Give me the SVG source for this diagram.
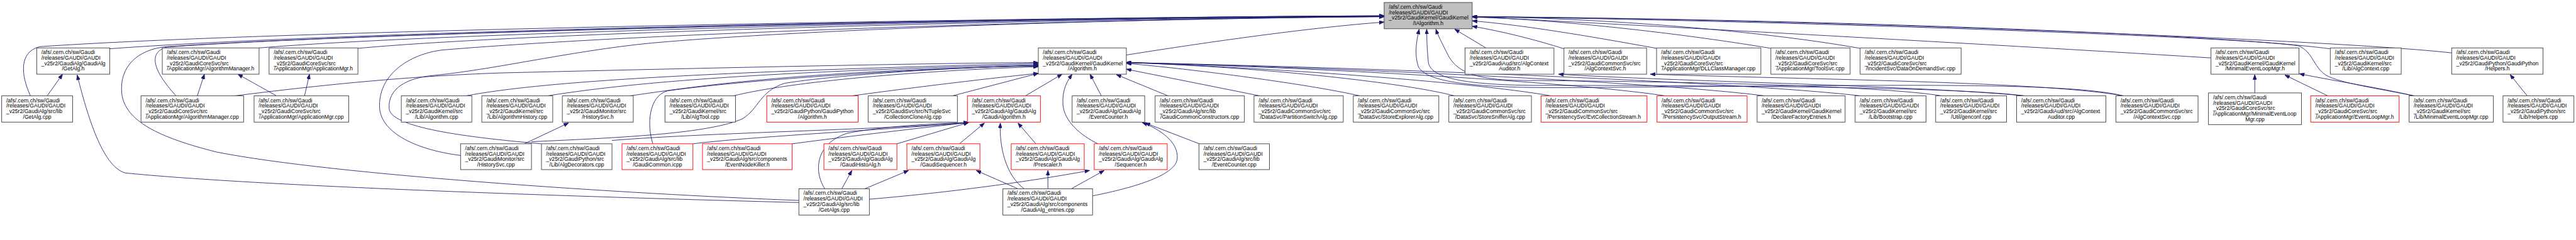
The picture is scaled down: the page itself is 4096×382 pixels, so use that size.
<svg xmlns="http://www.w3.org/2000/svg" width="4096" height="382" viewBox="0 0 4096 382">
<style>
.n rect{fill:#fff;stroke:#404040;stroke-width:1.4}
.r rect{fill:#fff;stroke:#ff0000;stroke-width:1.4}
.root rect{fill:#bfbfbf;stroke:#404040;stroke-width:1.4}
text{font-family:"Liberation Sans",Arial,Helvetica,sans-serif;font-size:13px;fill:#000}
.m{text-anchor:middle}
#edges path{fill:none;stroke:#191970;stroke-width:1.3;marker-end:url(#a)}
</style>
<defs>
<marker id="a" markerWidth="12" markerHeight="9" refX="12" refY="4.5" orient="auto" markerUnits="userSpaceOnUse">
<path d="M0,0 L12,4.5 L0,9 z" fill="#191970" stroke="#191970" stroke-width="1"/>
</marker>
</defs>
<rect width="4096" height="382" fill="#fff"/>
<g transform="scale(0.66332)">
<g id="edges">
<path d="M263,117 C900,70 2600,40 3318,38"/>
<path d="M73,230 C50,180 45,125 95,112 C700,70 2600,40 3318,38"/>
<path d="M422,230 C390,195 340,130 400,113 C900,75 2600,41 3318,39"/>
<path d="M621,115 C1100,75 2600,42 3318,39"/>
<path d="M858,116 C1300,75 2650,43 3318,40"/>
<path d="M1915,481 C1500,465 800,420 520,365 C380,330 300,290 292,225 C285,160 330,118 400,112 C1000,72 2600,40 3318,38"/>
<path d="M1915,486 C1300,470 600,445 300,415 C250,400 215,300 185,180"/>
<path d="M1104,373 C1000,360 915,320 910,260 C905,180 980,130 1060,120 C1600,75 2700,45 3318,40"/>
<path d="M1297,345 C1150,332 940,310 933,262 C928,210 980,186 1040,181 C1200,165 1400,115 1600,100 C1900,75 2600,45 3318,40"/>
<path d="M2700,132 C2900,100 3150,65 3318,53"/>
<path d="M473,230 L490,178"/>
<path d="M663,230 L570,178"/>
<path d="M730,230 L742,178"/>
<path d="M113,230 L150,178"/>
<path d="M562,230 C800,200 1000,182 1200,175 C1700,163 2200,152 2489,150"/>
<path d="M1117,230 C1300,195 1700,172 2489,152"/>
<path d="M1312,230 C1500,200 1800,172 2489,155"/>
<path d="M1510,230 C1650,210 1900,170 2489,158"/>
<path d="M1758,230 C1900,195 2200,170 2489,160"/>
<path d="M2042,230 C2150,215 2350,190 2489,176"/>
<path d="M2283,230 L2489,176"/>
<path d="M1274,340 C1500,330 1700,320 1780,285 C1820,260 1820,220 1880,200 C2000,180 2300,160 2489,158"/>
<path d="M1565,345 C1550,300 1555,230 1600,218 C1800,190 2200,165 2489,157"/>
<path d="M2458,230 L2546,178"/>
<path d="M2632,345 C2590,325 2550,290 2548,250 C2546,215 2558,195 2570,178"/>
<path d="M2640,230 L2613,178"/>
<path d="M2800,230 L2676,179"/>
<path d="M3020,230 L2700,166"/>
<path d="M3260,230 C3150,205 2900,170 2700,152"/>
<path d="M3487,230 C3350,195 3000,160 2700,150"/>
<path d="M3718,230 C3550,200 3100,165 2700,150"/>
<path d="M3992,230 C3800,200 3200,163 2700,150"/>
<path d="M4230,230 C4000,200 3300,165 2700,150"/>
<path d="M4460,230 C4200,200 3400,165 2700,150"/>
<path d="M3562,115 L3487,70"/>
<path d="M5090,230 C4950,195 4500,205 3800,210 C3550,213 3420,200 3400,160 C3390,130 3395,100 3402,70"/>
<path d="M4853,230 C4700,210 4200,205 3700,205 C3500,205 3430,185 3424,150 C3421,120 3420,95 3420,70"/>
<path d="M4655,230 C4500,205 4000,195 3650,193 C3530,192 3490,170 3470,130 C3455,100 3447,85 3442,70"/>
<path d="M3749,117 C3680,95 3600,75 3529,63"/>
<path d="M3971,116 C3800,85 3650,60 3529,50"/>
<path d="M4245,116 C4000,75 3700,45 3529,41"/>
<path d="M4459,116 C4200,70 3800,42 3529,40"/>
<path d="M5300,139 C5000,120 4300,80 3529,40"/>
<path d="M5585,117 C5300,80 4300,45 3529,40"/>
<path d="M5877,127 C5600,95 4300,45 3529,40"/>
<path d="M5787,230 C5700,212 5610,200 5575,180 C5545,160 5545,125 5510,110 C5400,90 4300,50 3529,40"/>
<path d="M5787,230 C5700,210 5600,195 5512,177"/>
<path d="M5580,230 L5477,180"/>
<path d="M5405,223 L5405,179"/>
<path d="M6058,230 L6017,179"/>
<path d="M4853,230 C4600,205 4000,195 3736,178"/>
<path d="M5090,230 C4900,195 4300,190 3956,178"/>
<path d="M2150,345 L2322,294"/>
<path d="M1899,345 C2050,325 2200,308 2322,294"/>
<path d="M1661,345 C1800,328 2100,313 2322,294"/>
<path d="M1467,337 C1700,318 2100,312 2322,294"/>
<path d="M1977,453 C1950,410 1955,345 2030,320 C2120,302 2250,296 2322,294"/>
<path d="M2300,345 L2360,295"/>
<path d="M2455,453 C2410,420 2395,350 2398,295"/>
<path d="M2483,345 L2440,295"/>
<path d="M2018,453 L2042,409"/>
<path d="M2073,453 L2178,409"/>
<path d="M2084,478 C2300,460 2500,430 2612,409"/>
<path d="M2440,453 L2340,409"/>
<path d="M2512,453 L2512,409"/>
<path d="M2568,453 L2647,409"/>
<path d="M2619,470 C2720,450 2820,420 2822,380 C2825,340 2780,310 2738,294"/>
<path d="M2875,345 L2745,295"/>
<path d="M1257,345 L1363,295"/>
</g>

<g id="root" class="root"><rect x="3318" y="6" width="211" height="63"/><text><tspan x="3329" y="21">/afs/.cern.ch/sw/Gaudi</tspan><tspan x="3329" y="34.2">/releases/GAUDI/GAUDI</tspan><tspan x="3329" y="47.4">_v25r2/GaudiKernel/GaudiKernel</tspan><tspan x="3423.5" y="60.6" class="m">/IAlgorithm.h</tspan></text></g>

<g id="getalg_h" class="n"><rect x="88" y="115" width="175" height="63"/><text><tspan x="99" y="130">/afs/.cern.ch/sw/Gaudi</tspan><tspan x="99" y="143.2">/releases/GAUDI/GAUDI</tspan><tspan x="99" y="156.4">_v25r2/GaudiAlg/GaudiAlg</tspan><tspan x="175.5" y="169.6" class="m">/GetAlg.h</tspan></text></g>
<g id="algmgr_h" class="n"><rect x="389" y="115" width="232" height="63"/><text><tspan x="400" y="130">/afs/.cern.ch/sw/Gaudi</tspan><tspan x="400" y="143.2">/releases/GAUDI/GAUDI</tspan><tspan x="400" y="156.4">_v25r2/GaudiCoreSvc/src</tspan><tspan x="505" y="169.6" class="m">/ApplicationMgr/AlgorithmManager.h</tspan></text></g>
<g id="appmgr_h" class="n"><rect x="645" y="115" width="213" height="63"/><text><tspan x="656" y="130">/afs/.cern.ch/sw/Gaudi</tspan><tspan x="656" y="143.2">/releases/GAUDI/GAUDI</tspan><tspan x="656" y="156.4">_v25r2/GaudiCoreSvc/src</tspan><tspan x="751.5" y="169.6" class="m">/ApplicationMgr/ApplicationMgr.h</tspan></text></g>
<g id="alg_h" class="n"><rect x="2489" y="115" width="211" height="63"/><text><tspan x="2500" y="130">/afs/.cern.ch/sw/Gaudi</tspan><tspan x="2500" y="143.2">/releases/GAUDI/GAUDI</tspan><tspan x="2500" y="156.4">_v25r2/GaudiKernel/GaudiKernel</tspan><tspan x="2594.5" y="169.6" class="m">/Algorithm.h</tspan></text></g>
<g id="acaud_h" class="n"><rect x="3512" y="115" width="213" height="63"/><text><tspan x="3523" y="130">/afs/.cern.ch/sw/Gaudi</tspan><tspan x="3523" y="143.2">/releases/GAUDI/GAUDI</tspan><tspan x="3523" y="156.4">_v25r2/GaudiAud/src/AlgContext</tspan><tspan x="3618.5" y="169.6" class="m">Auditor.h</tspan></text></g>
<g id="acsvc_h" class="n"><rect x="3749" y="115" width="198" height="63"/><text><tspan x="3760" y="130">/afs/.cern.ch/sw/Gaudi</tspan><tspan x="3760" y="143.2">/releases/GAUDI/GAUDI</tspan><tspan x="3760" y="156.4">_v25r2/GaudiCommonSvc/src</tspan><tspan x="3848" y="169.6" class="m">/AlgContextSvc.h</tspan></text></g>
<g id="dll" class="n"><rect x="3971" y="115" width="250" height="63"/><text><tspan x="3982" y="130">/afs/.cern.ch/sw/Gaudi</tspan><tspan x="3982" y="143.2">/releases/GAUDI/GAUDI</tspan><tspan x="3982" y="156.4">_v25r2/GaudiCoreSvc/src</tspan><tspan x="4096" y="169.6" class="m">/ApplicationMgr/DLLClassManager.cpp</tspan></text></g>
<g id="toolsvc" class="n"><rect x="4245" y="115" width="190" height="63"/><text><tspan x="4256" y="130">/afs/.cern.ch/sw/Gaudi</tspan><tspan x="4256" y="143.2">/releases/GAUDI/GAUDI</tspan><tspan x="4256" y="156.4">_v25r2/GaudiCoreSvc/src</tspan><tspan x="4340" y="169.6" class="m">/ApplicationMgr/ToolSvc.cpp</tspan></text></g>
<g id="dod" class="n"><rect x="4459" y="115" width="242" height="63"/><text><tspan x="4470" y="130">/afs/.cern.ch/sw/Gaudi</tspan><tspan x="4470" y="143.2">/releases/GAUDI/GAUDI</tspan><tspan x="4470" y="156.4">_v25r2/GaudiCoreSvc/src</tspan><tspan x="4580" y="169.6" class="m">/IncidentSvc/DataOnDemandSvc.cpp</tspan></text></g>
<g id="mel_h" class="n"><rect x="5300" y="115" width="211" height="63"/><text><tspan x="5311" y="130">/afs/.cern.ch/sw/Gaudi</tspan><tspan x="5311" y="143.2">/releases/GAUDI/GAUDI</tspan><tspan x="5311" y="156.4">_v25r2/GaudiKernel/GaudiKernel</tspan><tspan x="5405.5" y="169.6" class="m">/MinimalEventLoopMgr.h</tspan></text></g>
<g id="algctx" class="n"><rect x="5586" y="115" width="170" height="63"/><text><tspan x="5597" y="130">/afs/.cern.ch/sw/Gaudi</tspan><tspan x="5597" y="143.2">/releases/GAUDI/GAUDI</tspan><tspan x="5597" y="156.4">_v25r2/GaudiKernel/src</tspan><tspan x="5671" y="169.6" class="m">/Lib/AlgContext.cpp</tspan></text></g>
<g id="helpers_h" class="n"><rect x="5877" y="115" width="219" height="63"/><text><tspan x="5888" y="130">/afs/.cern.ch/sw/Gaudi</tspan><tspan x="5888" y="143.2">/releases/GAUDI/GAUDI</tspan><tspan x="5888" y="156.4">_v25r2/GaudiPython/GaudiPython</tspan><tspan x="5986.5" y="169.6" class="m">/Helpers.h</tspan></text></g>

<g id="getalg_cpp" class="n"><rect x="4" y="230" width="170" height="63"/><text><tspan x="15" y="245">/afs/.cern.ch/sw/Gaudi</tspan><tspan x="15" y="258.2">/releases/GAUDI/GAUDI</tspan><tspan x="15" y="271.4">_v25r2/GaudiAlg/src/lib</tspan><tspan x="89" y="284.6" class="m">/GetAlg.cpp</tspan></text></g>
<g id="algmgr_cpp" class="n"><rect x="338" y="230" width="246" height="63"/><text><tspan x="349" y="245">/afs/.cern.ch/sw/Gaudi</tspan><tspan x="349" y="258.2">/releases/GAUDI/GAUDI</tspan><tspan x="349" y="271.4">_v25r2/GaudiCoreSvc/src</tspan><tspan x="461" y="284.6" class="m">/ApplicationMgr/AlgorithmManager.cpp</tspan></text></g>
<g id="appmgr_cpp" class="n"><rect x="609" y="230" width="227" height="63"/><text><tspan x="620" y="245">/afs/.cern.ch/sw/Gaudi</tspan><tspan x="620" y="258.2">/releases/GAUDI/GAUDI</tspan><tspan x="620" y="271.4">_v25r2/GaudiCoreSvc/src</tspan><tspan x="722.5" y="284.6" class="m">/ApplicationMgr/ApplicationMgr.cpp</tspan></text></g>
<g id="alg_cpp" class="n"><rect x="962" y="230" width="169" height="63"/><text><tspan x="973" y="245">/afs/.cern.ch/sw/Gaudi</tspan><tspan x="973" y="258.2">/releases/GAUDI/GAUDI</tspan><tspan x="973" y="271.4">_v25r2/GaudiKernel/src</tspan><tspan x="1046.5" y="284.6" class="m">/Lib/Algorithm.cpp</tspan></text></g>
<g id="alghist" class="n"><rect x="1155" y="230" width="170" height="63"/><text><tspan x="1166" y="245">/afs/.cern.ch/sw/Gaudi</tspan><tspan x="1166" y="258.2">/releases/GAUDI/GAUDI</tspan><tspan x="1166" y="271.4">_v25r2/GaudiKernel/src</tspan><tspan x="1240" y="284.6" class="m">/Lib/AlgorithmHistory.cpp</tspan></text></g>
<g id="histsvc_h" class="n"><rect x="1348" y="230" width="170" height="63"/><text><tspan x="1359" y="245">/afs/.cern.ch/sw/Gaudi</tspan><tspan x="1359" y="258.2">/releases/GAUDI/GAUDI</tspan><tspan x="1359" y="271.4">_v25r2/GaudiMonitor/src</tspan><tspan x="1433" y="284.6" class="m">/HistorySvc.h</tspan></text></g>
<g id="algtool" class="n"><rect x="1594" y="230" width="169" height="63"/><text><tspan x="1605" y="245">/afs/.cern.ch/sw/Gaudi</tspan><tspan x="1605" y="258.2">/releases/GAUDI/GAUDI</tspan><tspan x="1605" y="271.4">_v25r2/GaudiKernel/src</tspan><tspan x="1678.5" y="284.6" class="m">/Lib/AlgTool.cpp</tspan></text></g>
<g id="gpalg" class="r"><rect x="1838" y="230" width="219" height="63"/><text><tspan x="1849" y="245">/afs/.cern.ch/sw/Gaudi</tspan><tspan x="1849" y="258.2">/releases/GAUDI/GAUDI</tspan><tspan x="1849" y="271.4">_v25r2/GaudiPython/GaudiPython</tspan><tspan x="1947.5" y="284.6" class="m">/Algorithm.h</tspan></text></g>
<g id="collclone" class="n"><rect x="2081" y="230" width="214" height="63"/><text><tspan x="2092" y="245">/afs/.cern.ch/sw/Gaudi</tspan><tspan x="2092" y="258.2">/releases/GAUDI/GAUDI</tspan><tspan x="2092" y="271.4">_v25r2/GaudiSvc/src/NTupleSvc</tspan><tspan x="2188" y="284.6" class="m">/CollectionCloneAlg.cpp</tspan></text></g>
<g id="gaudialg" class="r"><rect x="2319" y="230" width="175" height="63"/><text><tspan x="2330" y="245">/afs/.cern.ch/sw/Gaudi</tspan><tspan x="2330" y="258.2">/releases/GAUDI/GAUDI</tspan><tspan x="2330" y="271.4">_v25r2/GaudiAlg/GaudiAlg</tspan><tspan x="2406.5" y="284.6" class="m">/GaudiAlgorithm.h</tspan></text></g>
<g id="evtcnt_h" class="n"><rect x="2570" y="230" width="174" height="63"/><text><tspan x="2581" y="245">/afs/.cern.ch/sw/Gaudi</tspan><tspan x="2581" y="258.2">/releases/GAUDI/GAUDI</tspan><tspan x="2581" y="271.4">_v25r2/GaudiAlg/GaudiAlg</tspan><tspan x="2657" y="284.6" class="m">/EventCounter.h</tspan></text></g>
<g id="gcc" class="n"><rect x="2769" y="230" width="214" height="63"/><text><tspan x="2780" y="245">/afs/.cern.ch/sw/Gaudi</tspan><tspan x="2780" y="258.2">/releases/GAUDI/GAUDI</tspan><tspan x="2780" y="271.4">_v25r2/GaudiAlg/src/lib</tspan><tspan x="2876" y="284.6" class="m">/GaudiCommonConstructors.cpp</tspan></text></g>
<g id="psa" class="n"><rect x="3006" y="230" width="214" height="63"/><text><tspan x="3017" y="245">/afs/.cern.ch/sw/Gaudi</tspan><tspan x="3017" y="258.2">/releases/GAUDI/GAUDI</tspan><tspan x="3017" y="271.4">_v25r2/GaudiCommonSvc/src</tspan><tspan x="3113" y="284.6" class="m">/DataSvc/PartitionSwitchAlg.cpp</tspan></text></g>
<g id="sea" class="n"><rect x="3244" y="230" width="205" height="63"/><text><tspan x="3255" y="245">/afs/.cern.ch/sw/Gaudi</tspan><tspan x="3255" y="258.2">/releases/GAUDI/GAUDI</tspan><tspan x="3255" y="271.4">_v25r2/GaudiCommonSvc/src</tspan><tspan x="3346.5" y="284.6" class="m">/DataSvc/StoreExplorerAlg.cpp</tspan></text></g>
<g id="ssa" class="n"><rect x="3473" y="230" width="198" height="63"/><text><tspan x="3484" y="245">/afs/.cern.ch/sw/Gaudi</tspan><tspan x="3484" y="258.2">/releases/GAUDI/GAUDI</tspan><tspan x="3484" y="271.4">_v25r2/GaudiCommonSvc/src</tspan><tspan x="3572" y="284.6" class="m">/DataSvc/StoreSnifferAlg.cpp</tspan></text></g>
<g id="ecs" class="r"><rect x="3694" y="230" width="254" height="63"/><text><tspan x="3705" y="245">/afs/.cern.ch/sw/Gaudi</tspan><tspan x="3705" y="258.2">/releases/GAUDI/GAUDI</tspan><tspan x="3705" y="271.4">_v25r2/GaudiCommonSvc/src</tspan><tspan x="3821" y="284.6" class="m">/PersistencySvc/EvtCollectionStream.h</tspan></text></g>
<g id="os" class="r"><rect x="3972" y="230" width="216" height="63"/><text><tspan x="3983" y="245">/afs/.cern.ch/sw/Gaudi</tspan><tspan x="3983" y="258.2">/releases/GAUDI/GAUDI</tspan><tspan x="3983" y="271.4">_v25r2/GaudiCommonSvc/src</tspan><tspan x="4080" y="284.6" class="m">/PersistencySvc/OutputStream.h</tspan></text></g>
<g id="dfe" class="n"><rect x="4212" y="230" width="211" height="63"/><text><tspan x="4223" y="245">/afs/.cern.ch/sw/Gaudi</tspan><tspan x="4223" y="258.2">/releases/GAUDI/GAUDI</tspan><tspan x="4223" y="271.4">_v25r2/GaudiKernel/GaudiKernel</tspan><tspan x="4317.5" y="284.6" class="m">/DeclareFactoryEntries.h</tspan></text></g>
<g id="boot" class="n"><rect x="4447" y="230" width="170" height="63"/><text><tspan x="4458" y="245">/afs/.cern.ch/sw/Gaudi</tspan><tspan x="4458" y="258.2">/releases/GAUDI/GAUDI</tspan><tspan x="4458" y="271.4">_v25r2/GaudiKernel/src</tspan><tspan x="4532" y="284.6" class="m">/Lib/Bootstrap.cpp</tspan></text></g>
<g id="genconf" class="n"><rect x="4640" y="230" width="170" height="63"/><text><tspan x="4651" y="245">/afs/.cern.ch/sw/Gaudi</tspan><tspan x="4651" y="258.2">/releases/GAUDI/GAUDI</tspan><tspan x="4651" y="271.4">_v25r2/GaudiKernel/src</tspan><tspan x="4725" y="284.6" class="m">/Util/genconf.cpp</tspan></text></g>
<g id="acaud_cpp" class="n"><rect x="4834" y="230" width="214" height="63"/><text><tspan x="4845" y="245">/afs/.cern.ch/sw/Gaudi</tspan><tspan x="4845" y="258.2">/releases/GAUDI/GAUDI</tspan><tspan x="4845" y="271.4">_v25r2/GaudiAud/src/AlgContext</tspan><tspan x="4941" y="284.6" class="m">Auditor.cpp</tspan></text></g>
<g id="acsvc_cpp" class="n"><rect x="5072" y="230" width="197" height="63"/><text><tspan x="5083" y="245">/afs/.cern.ch/sw/Gaudi</tspan><tspan x="5083" y="258.2">/releases/GAUDI/GAUDI</tspan><tspan x="5083" y="271.4">_v25r2/GaudiCommonSvc/src</tspan><tspan x="5170.5" y="284.6" class="m">/AlgContextSvc.cpp</tspan></text></g>
<g id="mel_core" class="n"><rect x="5294" y="223" width="223" height="76"/><text><tspan x="5305" y="238">/afs/.cern.ch/sw/Gaudi</tspan><tspan x="5305" y="251.2">/releases/GAUDI/GAUDI</tspan><tspan x="5305" y="264.4">_v25r2/GaudiCoreSvc/src</tspan><tspan x="5305" y="277.6">/ApplicationMgr/MinimalEventLoop</tspan><tspan x="5405.5" y="290.8" class="m">Mgr.cpp</tspan></text></g>
<g id="elm_h" class="r"><rect x="5539" y="230" width="212" height="63"/><text><tspan x="5550" y="245">/afs/.cern.ch/sw/Gaudi</tspan><tspan x="5550" y="258.2">/releases/GAUDI/GAUDI</tspan><tspan x="5550" y="271.4">_v25r2/GaudiCoreSvc/src</tspan><tspan x="5645" y="284.6" class="m">/ApplicationMgr/EventLoopMgr.h</tspan></text></g>
<g id="mel_lib" class="n"><rect x="5775" y="230" width="202" height="63"/><text><tspan x="5786" y="245">/afs/.cern.ch/sw/Gaudi</tspan><tspan x="5786" y="258.2">/releases/GAUDI/GAUDI</tspan><tspan x="5786" y="271.4">_v25r2/GaudiKernel/src</tspan><tspan x="5876" y="284.6" class="m">/Lib/MinimalEventLoopMgr.cpp</tspan></text></g>
<g id="helpers_cpp" class="n"><rect x="6000" y="230" width="170" height="63"/><text><tspan x="6011" y="245">/afs/.cern.ch/sw/Gaudi</tspan><tspan x="6011" y="258.2">/releases/GAUDI/GAUDI</tspan><tspan x="6011" y="271.4">_v25r2/GaudiPython/src</tspan><tspan x="6085" y="284.6" class="m">/Lib/Helpers.cpp</tspan></text></g>

<g id="histsvc_cpp" class="n"><rect x="1104" y="345" width="170" height="62"/><text><tspan x="1115" y="360">/afs/.cern.ch/sw/Gaudi</tspan><tspan x="1115" y="373.2">/releases/GAUDI/GAUDI</tspan><tspan x="1115" y="386.4">_v25r2/GaudiMonitor/src</tspan><tspan x="1189" y="399.6" class="m">/HistorySvc.cpp</tspan></text></g>
<g id="algdec" class="n"><rect x="1298" y="345" width="169" height="62"/><text><tspan x="1309" y="360">/afs/.cern.ch/sw/Gaudi</tspan><tspan x="1309" y="373.2">/releases/GAUDI/GAUDI</tspan><tspan x="1309" y="386.4">_v25r2/GaudiPython/src</tspan><tspan x="1382.5" y="399.6" class="m">/Lib/AlgDecorators.cpp</tspan></text></g>
<g id="gcommon" class="r"><rect x="1491" y="345" width="170" height="62"/><text><tspan x="1502" y="360">/afs/.cern.ch/sw/Gaudi</tspan><tspan x="1502" y="373.2">/releases/GAUDI/GAUDI</tspan><tspan x="1502" y="386.4">_v25r2/GaudiAlg/src/lib</tspan><tspan x="1576" y="399.6" class="m">/GaudiCommon.icpp</tspan></text></g>
<g id="enk" class="r"><rect x="1684" y="345" width="215" height="62"/><text><tspan x="1695" y="360">/afs/.cern.ch/sw/Gaudi</tspan><tspan x="1695" y="373.2">/releases/GAUDI/GAUDI</tspan><tspan x="1695" y="386.4">_v25r2/GaudiAlg/src/components</tspan><tspan x="1791.5" y="399.6" class="m">/EventNodeKiller.h</tspan></text></g>
<g id="gha" class="r"><rect x="1975" y="345" width="175" height="62"/><text><tspan x="1986" y="360">/afs/.cern.ch/sw/Gaudi</tspan><tspan x="1986" y="373.2">/releases/GAUDI/GAUDI</tspan><tspan x="1986" y="386.4">_v25r2/GaudiAlg/GaudiAlg</tspan><tspan x="2062.5" y="399.6" class="m">/GaudiHistoAlg.h</tspan></text></g>
<g id="gseq" class="r"><rect x="2174" y="345" width="175" height="62"/><text><tspan x="2185" y="360">/afs/.cern.ch/sw/Gaudi</tspan><tspan x="2185" y="373.2">/releases/GAUDI/GAUDI</tspan><tspan x="2185" y="386.4">_v25r2/GaudiAlg/GaudiAlg</tspan><tspan x="2261.5" y="399.6" class="m">/GaudiSequencer.h</tspan></text></g>
<g id="presc" class="r"><rect x="2424" y="345" width="175" height="62"/><text><tspan x="2435" y="360">/afs/.cern.ch/sw/Gaudi</tspan><tspan x="2435" y="373.2">/releases/GAUDI/GAUDI</tspan><tspan x="2435" y="386.4">_v25r2/GaudiAlg/GaudiAlg</tspan><tspan x="2511.5" y="399.6" class="m">/Prescaler.h</tspan></text></g>
<g id="seq" class="r"><rect x="2623" y="345" width="175" height="62"/><text><tspan x="2634" y="360">/afs/.cern.ch/sw/Gaudi</tspan><tspan x="2634" y="373.2">/releases/GAUDI/GAUDI</tspan><tspan x="2634" y="386.4">_v25r2/GaudiAlg/GaudiAlg</tspan><tspan x="2710.5" y="399.6" class="m">/Sequencer.h</tspan></text></g>
<g id="evtcnt_cpp" class="n"><rect x="2874" y="345" width="169" height="62"/><text><tspan x="2885" y="360">/afs/.cern.ch/sw/Gaudi</tspan><tspan x="2885" y="373.2">/releases/GAUDI/GAUDI</tspan><tspan x="2885" y="386.4">_v25r2/GaudiAlg/src/lib</tspan><tspan x="2958.5" y="399.6" class="m">/EventCounter.cpp</tspan></text></g>

<g id="getalgs" class="n"><rect x="1915" y="453" width="169" height="63"/><text><tspan x="1926" y="468">/afs/.cern.ch/sw/Gaudi</tspan><tspan x="1926" y="481.2">/releases/GAUDI/GAUDI</tspan><tspan x="1926" y="494.4">_v25r2/GaudiAlg/src/lib</tspan><tspan x="1999.5" y="507.6" class="m">/GetAlgs.cpp</tspan></text></g>
<g id="entries" class="n"><rect x="2404" y="453" width="215" height="63"/><text><tspan x="2415" y="468">/afs/.cern.ch/sw/Gaudi</tspan><tspan x="2415" y="481.2">/releases/GAUDI/GAUDI</tspan><tspan x="2415" y="494.4">_v25r2/GaudiAlg/src/components</tspan><tspan x="2511.5" y="507.6" class="m">/GaudiAlg_entries.cpp</tspan></text></g>
</g>
</svg>
